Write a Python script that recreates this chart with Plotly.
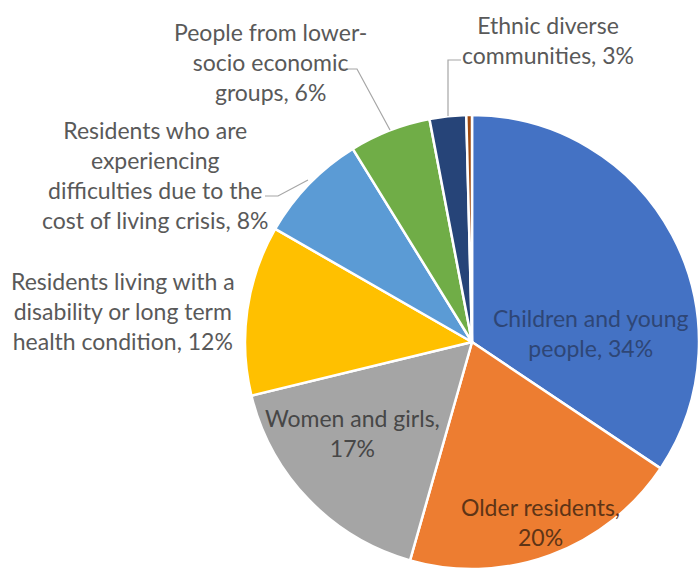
import plotly.graph_objects as go

# ---- data ----
categories = [
    "Children and young people",
    "Older residents",
    "Women and girls",
    "Residents living with a disability or long term health condition",
    "Residents who are experiencing difficulties due to the cost of living crisis",
    "People from lower-socio economic groups",
    "Ethnic diverse communities",
    "Other",
]
values = [34.4, 20.0, 16.8, 12.1, 7.9, 5.8, 2.6, 0.4]
label_pct = ["34%", "20%", "17%", "12%", "8%", "6%", "3%", ""]
colors = ["#4472C4", "#ED7D31", "#A5A5A5", "#FFC000", "#5B9BD5", "#70AD47", "#264478", "#9E480E"]

W, H = 699, 571
CX, CY, R = 472, 342, 227


def px(x):
    return x / W


def py(y):
    return 1 - y / H


fig = go.Figure(go.Pie(
    labels=categories,
    values=values,
    sort=False,
    direction="clockwise",
    rotation=0,
    textinfo="none",
    hoverinfo="label+percent",
    marker=dict(colors=colors, line=dict(color="white", width=2.5)),
    domain=dict(x=[px(CX - R), px(CX + R)], y=[py(CY + R), py(CY - R)]),
    showlegend=False,
))

FONT = "Lato"
SIZE = 23
GRAY = "#595959"

labels = [
    ("Children and young<br>people, " + label_pct[0], 590, 333, "#2E4676"),
    ("Older residents,<br>" + label_pct[1], 540, 522, "#5E3416"),
    ("Women and girls,<br>" + label_pct[2], 352, 433, "#474747"),
    ("Residents living with a<br>disability or long term<br>health condition, " + label_pct[3], 123, 311, GRAY),
    ("Residents who are<br>experiencing<br>difficulties due to the<br>cost of living crisis, " + label_pct[4], 155, 175, GRAY),
    ("People from lower-<br>socio economic<br>groups, " + label_pct[5], 270, 62, GRAY),
    ("Ethnic diverse<br>communities, " + label_pct[6], 548, 40, GRAY),
]

annotations = []
for text, x, y, col in labels:
    annotations.append(dict(
        text=text, x=px(x), y=py(y), xref="paper", yref="paper",
        xanchor="center", yanchor="middle", showarrow=False, align="center",
        font=dict(family=FONT, size=SIZE, color=col),
    ))

leaders = [
    [(340, 69), (357, 69), (390, 130)],
    [(461, 60), (448, 60), (448, 116)],
    [(265, 196), (278, 196), (308, 180)],
]
shapes = []
for pts in leaders:
    path = "M " + " L ".join(f"{px(a)},{py(b)}" for a, b in pts)
    shapes.append(dict(type="path", path=path, xref="paper", yref="paper",
                       line=dict(color="#A6A6A6", width=1.2)))

fig.update_layout(
    width=W, height=H,
    margin=dict(l=0, r=0, t=0, b=0),
    paper_bgcolor="white", plot_bgcolor="white",
    annotations=annotations,
    shapes=shapes,
)

fig.write_html(
    "out.html",
    config={"displayModeBar": False},
    post_script="document.body.style.margin='0';document.documentElement.style.margin='0';",
)
